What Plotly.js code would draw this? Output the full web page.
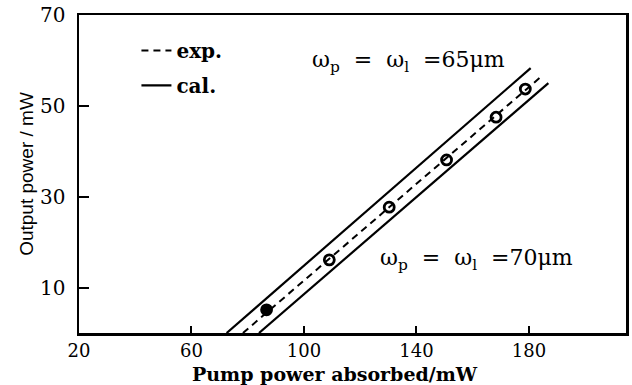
<!DOCTYPE html>
<html>
<head>
<meta charset="utf-8">
<script src="https://cdn.plot.ly/plotly-3.0.1.min.js"></script>
<style>html,body{margin:0;padding:0;background:#fff;}#chart{width:632px;height:385px;}</style>
</head>
<body>
<div id="chart"></div>
<script>
// Calculated lines (w = 65 um upper, w = 70 um lower) and experimental fit
const calUpperX = [72.5, 180.6];
const calUpperY = [0, 58.3];
const calLowerX = [84.0, 186.9];
const calLowerY = [0, 55.0];
const expLineX = [78.3, 185.0];
const expLineY = [0, 56.8];
// Measured points
const expPtsX = [86.7, 109.0, 130.3, 150.7, 168.3, 178.7];
const expPtsY = [5.1, 16.1, 27.7, 38.1, 47.5, 53.7];
const expPtsSymbol = ['circle', 'circle-open', 'circle-open', 'circle-open', 'circle-open', 'circle-open'];
const xTicks = [20, 60, 100, 140, 180];
const yTicks = [10, 30, 50, 70];
const label65 = 'ω<sub>p</sub>  =  ω<sub>l</sub>  =65μm';
const label70 = 'ω<sub>p</sub>  =  ω<sub>l</sub>  =70μm';

const serif = 'DejaVu Serif, serif';

const traces = [
  {x: expLineX, y: expLineY, mode: 'lines', name: '<b>exp.</b>', legendgroup: 'a',
   line: {color: '#000', width: 2, dash: '7px,5px'}},
  {x: calUpperX, y: calUpperY, mode: 'lines', name: '<b>cal.</b>', legendgroup: 'b',
   line: {color: '#000', width: 2.2}},
  {x: calLowerX, y: calLowerY, mode: 'lines', showlegend: false,
   line: {color: '#000', width: 2.2}},
  {x: expPtsX, y: expPtsY, mode: 'markers', showlegend: false,
   marker: {symbol: expPtsSymbol, size: 10, color: '#000', line: {color: '#000', width: 2.8}}}
];

const layout = {
  width: 632, height: 385,
  margin: {l: 79, r: 6, t: 15, b: 52},
  paper_bgcolor: '#fff', plot_bgcolor: '#fff',
  font: {family: serif, color: '#000', size: 17},
  showlegend: true,
  legend: {x: 0.105, y: 0.95, xanchor: 'left', yanchor: 'top', bgcolor: 'rgba(0,0,0,0)',
           itemwidth: 30, tracegroupgap: 6, font: {family: serif, size: 20, color: '#000'}},
  xaxis: {range: [20, 214.5], tickvals: xTicks, ticktext: xTicks.map(String),
          showgrid: false, zeroline: false, showline: true, mirror: true, linecolor: '#000', linewidth: 2.5,
          ticks: 'inside', ticklen: 7, tickwidth: 2, tickcolor: '#000', ticklabelstandoff: 0,
          tickfont: {family: serif, size: 18, color: '#000'}},
  yaxis: {range: [0, 70], tickvals: yTicks, ticktext: yTicks.map(String),
          showgrid: false, zeroline: false, showline: true, mirror: true, linecolor: '#000', linewidth: 2.5,
          ticks: 'inside', ticklen: 10, tickwidth: 2, tickcolor: '#000', ticklabelstandoff: 7,
          tickfont: {family: serif, size: 20, color: '#000'},
          title: {text: 'Output power / mW', standoff: 2,
                  font: {family: 'Liberation Sans, Arial, sans-serif', size: 19, color: '#000'}}},
  annotations: [
    {xref: 'paper', yref: 'paper', x: (335 - 79) / 547, y: -0.13, xanchor: 'center', yanchor: 'middle',
     showarrow: false, text: '<b>Pump power absorbed/mW</b>', font: {family: serif, size: 19, color: '#000'}},
    {x: 137, y: 59.7, showarrow: false, text: label65, font: {family: serif, size: 22, color: '#000'}},
    {x: 161.2, y: 16.1, showarrow: false, text: label70, font: {family: serif, size: 22, color: '#000'}}
  ]
};

Plotly.newPlot('chart', traces, layout, {displayModeBar: false, staticPlot: true});
</script>
</body>
</html>
